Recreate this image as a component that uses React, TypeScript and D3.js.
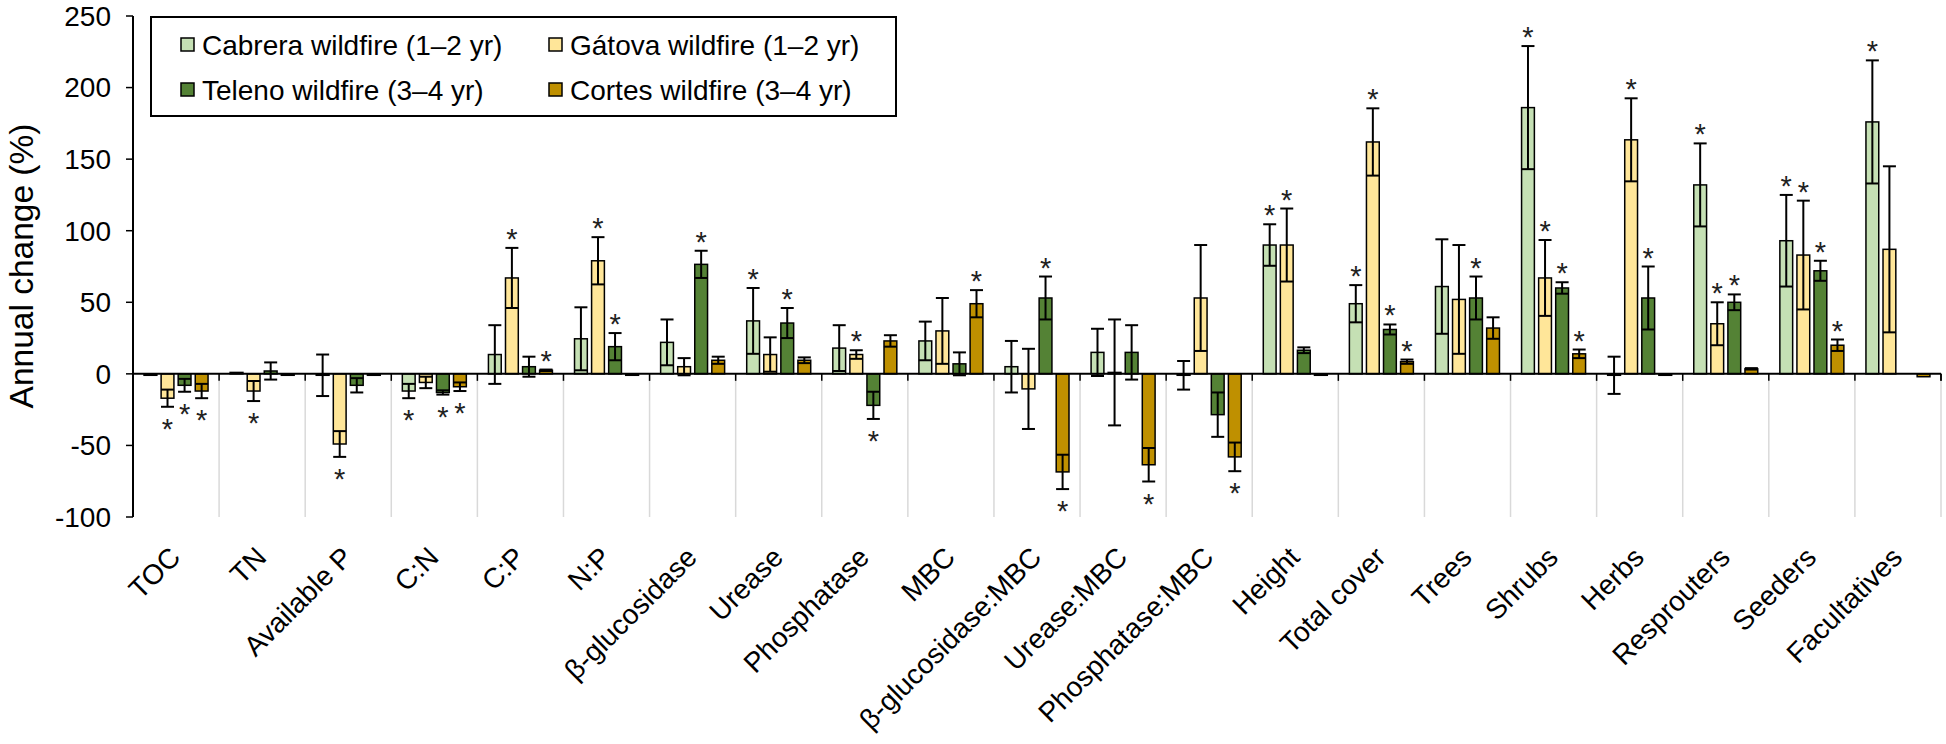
import React from "react";
import * as d3 from "d3";

const categories = ["TOC", "TN", "Available P", "C:N", "C:P", "N:P", "β-glucosidase", "Urease", "Phosphatase", "MBC", "β-glucosidase:MBC", "Urease:MBC", "Phosphatase:MBC", "Height", "Total cover", "Trees", "Shrubs", "Herbs", "Resprouters", "Seeders", "Facultatives"];

const seriesNames = ["Cabrera wildfire (1–2 yr)", "Gátova wildfire (1–2 yr)", "Teleno wildfire (3–4 yr)", "Cortes wildfire (3–4 yr)"];
const seriesColors = ["#C5E0B4", "#FFE699", "#548235", "#BF9000"];

const cabrera = [-1, 1, -1, -12, 13.5, 24.5, 22, 37, 18, 23, 5, 15, -1, 90, 49, 61, 186, -1, 132, 93, 176];
const cabreraSE = [0, 0, 14.5, 5, 20.5, 22, 16, 23, 16, 13.5, 18, 16.5, 10, 14.5, 13, 33, 43, 13, 29, 32, 43];
const gatova = [-17, -12, -49, -6, 67, 79, 5, 13.5, 13.5, 30, -10.5, 1, 53, 90, 162, 52, 67, 163.5, 35, 83, 87];
const gatovaSE = [6, 7, 9, 4, 21, 16.5, 6, 12, 3, 23, 28, 37, 37, 25.5, 23.5, 38, 26.5, 29, 15, 38, 58];
const teleno = [-8, 2, -8, -13, 5, 19, 76.5, 35.5, -22, 7, 53, 15, -28.5, 16.5, 31, 53, 60, 53, 50, 72, null];
const telenoSE = [4.5, 6, 5, 1.5, 7, 9.5, 9.5, 10.5, 9.5, 8, 15, 19, 15.5, 2, 3.5, 15, 4, 22, 5.5, 7, 0];
const cortes = [-12, -1, -1, -9, 2.5, -1, 9.5, 9.5, 23, 49, -68.5, -63.5, -58, -1, 8.5, 32, 14, -1, 3.5, 20, -2];
const cortesSE = [5, 0, 0, 3, 0.5, 0, 2.5, 2, 4, 9.5, 12, 11.7, 10, 0, 1.5, 7.5, 3, 0, 0.5, 4, 0];

const sigCabrera = [0, 0, 0, 1, 0, 0, 0, 1, 0, 0, 0, 0, 0, 1, 1, 0, 1, 0, 1, 1, 1];
const sigGatova = [1, 1, 1, 0, 1, 1, 0, 0, 1, 0, 0, 0, 0, 1, 1, 0, 1, 1, 1, 1, 0];
const sigTeleno = [1, 0, 0, 1, 0, 1, 1, 1, 1, 0, 1, 0, 0, 0, 1, 1, 1, 1, 1, 1, 0];
const sigCortes = [1, 0, 0, 1, 1, 0, 0, 0, 0, 1, 1, 1, 1, 0, 1, 0, 1, 0, 0, 1, 0];

const yTicks = [250, 200, 150, 100, 50, 0, -50, -100];

const values = [cabrera, gatova, teleno, cortes];
const errors = [cabreraSE, gatovaSE, telenoSE, cortesSE];
const sigs = [sigCabrera, sigGatova, sigTeleno, sigCortes];

const W = 1946;
const H = 744;
const FONT = "'Liberation Sans', Arial, sans-serif";

export default function App() {
  const x = d3.scaleBand<string>().domain(categories).range([133, 1941]).padding(0);
  const y = d3.scaleLinear().domain([-100, 250]).range([517, 16]);
  const inner = d3.scaleBand<number>().domain([0, 1, 2, 3]).range([0, 64]).paddingInner(0.25).paddingOuter(0);
  const bw = inner.bandwidth();
  const y0 = y(0);
  const capW = 13;

  const boundaries = d3.range(categories.length + 1).map((i) => 133 + i * x.bandwidth());

  return (
    <div style={{ position: "absolute", left: 0, top: 0 }}>
      <svg width={W} height={H} style={{ display: "block", background: "#fff" }} fontFamily={FONT}>
        {/* category dividers below zero */}
        {boundaries.slice(1).map((bx, i) => (
          <g key={"d" + i}>
            <line x1={bx} x2={bx} y1={y0} y2={y(-100)} stroke="#d9d9d9" strokeWidth={1.5} />
            <line x1={bx} x2={bx} y1={y0} y2={y0 + 7} stroke="#000" strokeWidth={1.5} />
          </g>
        ))}

        {/* bars */}
        {categories.map((c, ci) => {
          const gx = (x(c) as number) + (x.bandwidth() - 64) / 2;
          return (
            <g key={c}>
              {values.map((vals, si) => {
                const v = vals[ci];
                if (v === null || v === undefined) return null;
                const bx = gx + (inner(si) as number);
                const top = Math.min(y(v), y0);
                const h = Math.max(Math.abs(y(v) - y0), 1);
                return (
                  <rect key={si} x={bx} y={top} width={bw} height={h} fill={seriesColors[si]} stroke="#000" strokeWidth={1.5} />
                );
              })}
            </g>
          );
        })}

        {/* error bars and asterisks */}
        {categories.map((c, ci) => {
          const gx = (x(c) as number) + (x.bandwidth() - 64) / 2;
          return (
            <g key={"e" + c}>
              {values.map((vals, si) => {
                const v = vals[ci];
                if (v === null || v === undefined) return null;
                const se = errors[si][ci];
                const cx = gx + (inner(si) as number) + bw / 2;
                const yHi = y(v + se);
                const yLo = y(v - se);
                const star = sigs[si][ci] === 1;
                const starY = v >= 0 ? yHi + 1 : yLo + 32;
                return (
                  <g key={si}>
                    {se > 0 && (
                      <g stroke="#000" strokeWidth={2}>
                        <line x1={cx} x2={cx} y1={yHi} y2={yLo} />
                        <line x1={cx - capW / 2} x2={cx + capW / 2} y1={yHi} y2={yHi} />
                        <line x1={cx - capW / 2} x2={cx + capW / 2} y1={yLo} y2={yLo} />
                      </g>
                    )}
                    {star && (
                      <text x={cx} y={starY} textAnchor="middle" fontSize={29} fill="#222">*</text>
                    )}
                  </g>
                );
              })}
            </g>
          );
        })}

        {/* x axis at zero */}
        <line x1={133} x2={1941} y1={y0} y2={y0} stroke="#000" strokeWidth={2} />
        <line x1={1941} x2={1941} y1={y0} y2={y0 + 7} stroke="#000" strokeWidth={1.5} />

        {/* y axis */}
        <line x1={133} x2={133} y1={y(250)} y2={y(-100)} stroke="#000" strokeWidth={2} />
        {yTicks.map((t) => (
          <g key={"t" + t}>
            <line x1={126} x2={133} y1={y(t)} y2={y(t)} stroke="#000" strokeWidth={1.5} />
            <text x={111} y={y(t)} dy="0.35em" textAnchor="end" fontSize={28} fill="#000">{t}</text>
          </g>
        ))}

        {/* y title */}
        <text transform={`translate(21,266) rotate(-90)`} dy="0.35em" textAnchor="middle" fontSize={33.5} fill="#000">Annual change (%)</text>

        {/* category labels */}
        {categories.map((c) => {
          const cx = (x(c) as number) + x.bandwidth() / 2 + 6;
          return (
            <text key={"l" + c} transform={`translate(${cx},559) rotate(-45)`} textAnchor="end" fontSize={28} fill="#000">{c}</text>
          );
        })}

        {/* legend */}
        <rect x={151} y={17} width={745} height={99} fill="#fff" stroke="#000" strokeWidth={2} />
        {seriesNames.map((name, i) => {
          const col = i % 2;
          const row = Math.floor(i / 2);
          const sx = col === 0 ? 181 : 549;
          const cy = row === 0 ? 45 : 90;
          return (
            <g key={"lg" + i}>
              <rect x={sx} y={cy - 7} width={13} height={13} fill={seriesColors[i]} stroke="#000" strokeWidth={1.5} />
              <text x={sx + 21} y={cy} dy="0.35em" fontSize={28} fill="#000">{name}</text>
            </g>
          );
        })}
      </svg>
    </div>
  );
}
